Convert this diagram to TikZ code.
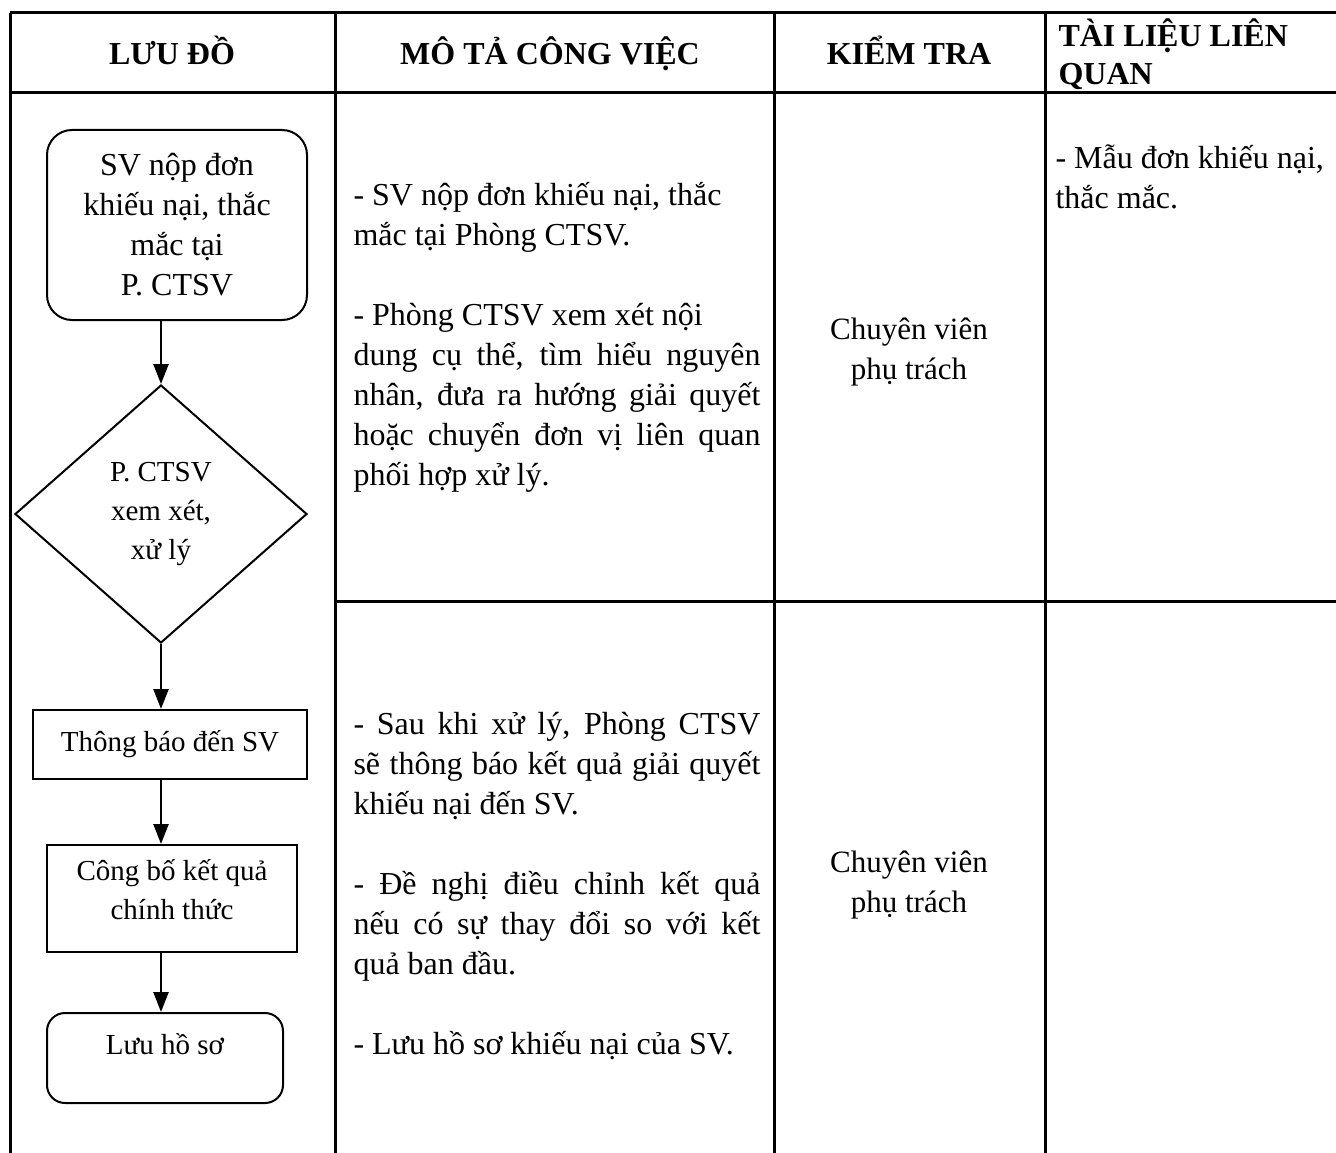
\documentclass[tikz,border=0pt]{standalone}
\usepackage{fontspec}
\setmainfont{Liberation Serif}
\usetikzlibrary{shapes.geometric,arrows.meta}

\newcommand{\jline}[1]{\makebox[407pt][s]{#1}}

\begin{document}
\begin{tikzpicture}[x=1pt,y=-1pt,
  txt/.style={font=\fontsize{32}{40}\selectfont},
  hdr/.style={font=\fontsize{32}{38}\selectfont\bfseries},
  grid/.style={line width=3pt},
  box/.style={draw,line width=2pt,inner sep=0pt,align=center,font=\fontsize{29}{39}\selectfont},
  term/.style={box,rounded corners=25pt},
  flow/.style={line width=2.5pt,-{Triangle[length=20pt,width=15pt]}}]
  \useasboundingbox (0,0) rectangle (1336,1153);

  % table
  \draw[grid] (10,13) -- (1336,13);
  \draw[grid] (10,93) -- (1336,93);
  \draw[grid] (335,601) -- (1336,601);
  \foreach \x in {10,335,774,1045}
    \draw[grid] (\x,13) -- (\x,1153);

  \node[hdr,anchor=base] (hflow) at (172,65) {LƯU ĐỒ};
  \node[hdr,anchor=base] (hdesc) at (550,65) {MÔ TẢ CÔNG VIỆC};
  \node[hdr,anchor=base] (hcheck) at (909,65) {KIỂM TRA};
  \node[hdr,anchor=base west,align=left] (hdoc) at (1055,85) {TÀI LIỆU LIÊN\\QUAN};

  % flow chart
  \node[term,minimum width=260pt,minimum height=190pt,font=\fontsize{32}{40}\selectfont] (start) at (177,225)
    {SV nộp đơn\\khiếu nại, thắc\\mắc tại\\P. CTSV};
  \node[box,diamond,aspect=1.13,minimum width=292pt,minimum height=258pt] (dec) at (161,514)
    {P. CTSV\\xem xét,\\xử lý};
  \node[box,minimum width=274pt,minimum height=69pt] (notify) at (170,744.5) {Thông báo đến SV};
  \node[box,minimum width=250pt,minimum height=107pt] (publish) at (172,898.5)
    {Công bố kết quả\\chính thức\rule[-18pt]{0pt}{18pt}};
  \node[term,rounded corners=18pt,minimum width=236pt,minimum height=90pt] (archive) at (165,1058)
    {Lưu hồ sơ\rule[-28pt]{0pt}{28pt}};

  \path[flow]
    (start.south -| dec) edge (dec.north)
    (dec.south) edge (dec.south |- notify.north)
    (notify.south -| dec) edge (dec.south |- publish.north)
    (publish.south -| dec) edge (dec.south |- archive.north);

  % description
  \node[txt,anchor=base west,align=left] (desc1) at (350,485)
    {- SV nộp đơn khiếu nại, thắc\\mắc tại Phòng CTSV.\\[40pt]- Phòng CTSV xem xét nội\\\jline{dung cụ thể, tìm hiểu nguyên}\\\jline{nhân, đưa ra hướng giải quyết}\\\jline{hoặc chuyển đơn vị liên quan}\\phối hợp xử lý.};
  \node[txt,anchor=base west,align=left] (desc2) at (350,1054)
    {\jline{- Sau khi xử lý, Phòng CTSV}\\\jline{sẽ thông báo kết quả giải quyết}\\khiếu nại đến SV.\\[40pt]\jline{- Đề nghị điều chỉnh kết quả}\\\jline{nếu có sự thay đổi so với kết}\\quả ban đầu.\\[40pt]- Lưu hồ sơ khiếu nại của SV.};

  % check
  \node[txt,align=center,font=\fontsize{31}{40}\selectfont] (check1) at (909,352) {Chuyên viên\\phụ trách};
  \node[txt,align=center,font=\fontsize{31}{40}\selectfont] (check2) at (909,885) {Chuyên viên\\phụ trách};

  % documents
  \node[txt,anchor=base west,align=left] (doc1) at (1052,208) {- Mẫu đơn khiếu nại,\\thắc mắc.};
\end{tikzpicture}
\end{document}
